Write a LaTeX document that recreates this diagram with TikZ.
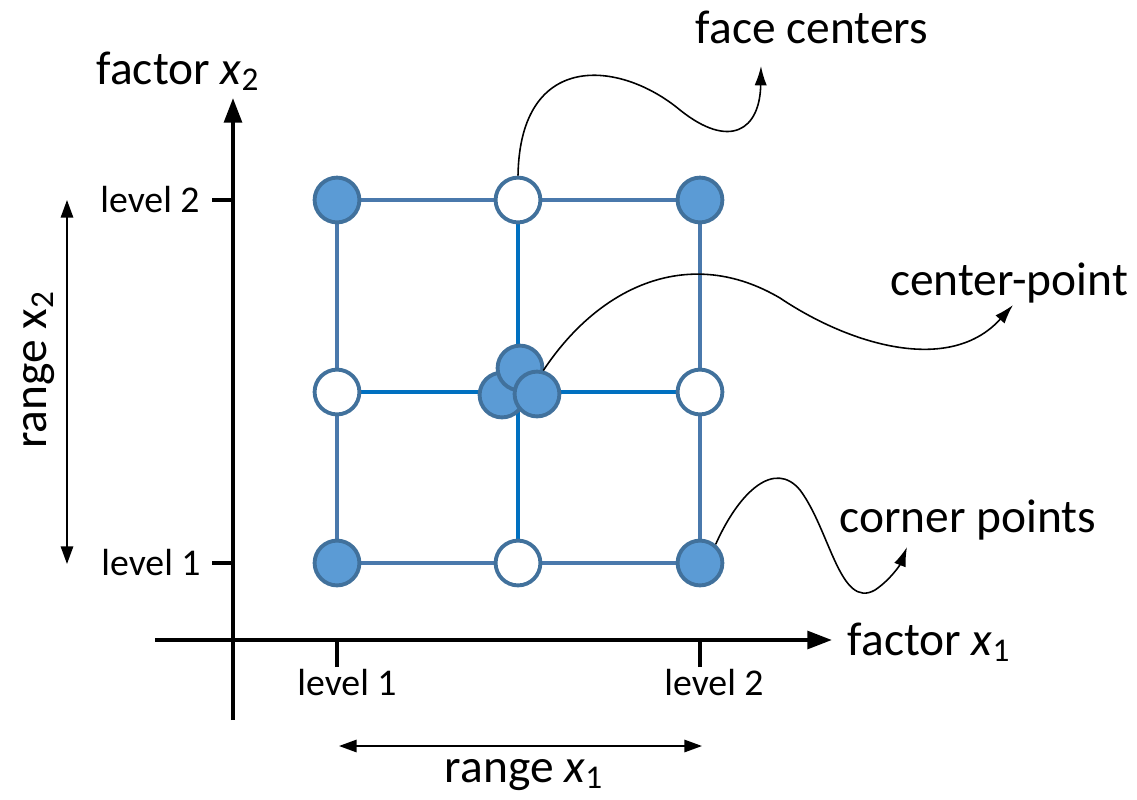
\documentclass[tikz,border=0pt]{standalone}
\usepackage{fontspec}
\setmainfont{Carlito}
\usetikzlibrary{arrows.meta,backgrounds}
\definecolor{ptfill}{HTML}{5B9BD5}
\definecolor{ptedge}{HTML}{41719C}
\definecolor{gridblue}{HTML}{4A79AC}
\definecolor{crossblue}{HTML}{0070C0}
\tikzset{
  designpt/.style={
    circle,
    draw=ptedge,
    line width=2.2pt,
    minimum size=25.5pt,
    inner sep=0pt
  },
  cornerpt/.style={designpt,fill=ptfill},
  facept/.style={designpt,fill=white},
  centerpt/.style={designpt,fill=ptfill},
  axisline/.style={-{Triangle[length=14pt,width=10pt]},line width=2.3pt},
  tickline/.style={line width=2pt},
  rangeline/.style={{Triangle[length=10pt,width=7pt]}-{Triangle[length=10pt,width=7pt]},line width=1.1pt},
  gridline/.style={draw=gridblue,line width=2pt},
  crossline/.style={draw=crossblue,line width=2pt},
  callout/.style={-{Latex[length=11pt,width=7pt]},line width=0.9pt},
  smalltext/.style={font=\fontsize{21.5}{26}\selectfont,anchor=base,inner sep=0pt},
  bigtext/.style={font=\fontsize{27}{32}\selectfont,anchor=base,inner sep=0pt}
}

\begin{document}
\begin{tikzpicture}[x=0.02cm,y=-0.02cm]
  \useasboundingbox (0,0) rectangle (1137,799);

  % axes
  \coordinate (yaxbot) at (233,720);
  \coordinate (yaxtop) at (233,98);
  \coordinate (xaxleft) at (155,640);
  \coordinate (xaxright) at (832,640);
  \draw[axisline] (yaxbot) -- (yaxtop);
  \draw[axisline] (xaxleft) -- (xaxright);
  \node[bigtext] (xtwo) at (178,84) {factor \textit{x}\textsubscript{2}};
  \node[bigtext] (xone) at (929,655) {factor \textit{x}\textsubscript{1}};

  % ticks and levels
  \coordinate (tickl2) at (212,200);
  \coordinate (tickl1) at (212,563);
  \coordinate (tickb1) at (337,667);
  \coordinate (tickb2) at (700,667);
  \draw[tickline] (tickl2) -- (233,200);
  \draw[tickline] (tickl1) -- (233,563);
  \draw[tickline] (tickb1) -- (337,640);
  \draw[tickline] (tickb2) -- (700,640);
  \node[smalltext] (lvlytwo) at (150,212) {level 2};
  \node[smalltext] (lvlyone) at (151,575) {level 1};
  \node[smalltext] (lvlxone) at (347,695) {level 1};
  \node[smalltext] (lvlxtwo) at (714,695) {level 2};

  % ranges
  \coordinate (rytop) at (67,200);
  \coordinate (rybot) at (67,564);
  \coordinate (rxleft) at (339,746);
  \coordinate (rxright) at (702,746);
  \draw[rangeline] (rybot) -- (rytop);
  \draw[rangeline] (rxleft) -- (rxright);
  \node[bigtext,anchor=base,rotate=90] (rangey) at (47,370) {range x\textsubscript{2}};
  \node[bigtext] (rangex) at (524,782) {range \textit{x}\textsubscript{1}};

  % design points
  \node[cornerpt] (c11) at (337,563) {};
  \node[cornerpt] (c21) at (700,563) {};
  \node[cornerpt] (c12) at (337,200) {};
  \node[cornerpt] (c22) at (700,200) {};
  \node[facept] (fbot) at (518,563) {};
  \node[facept] (ftop) at (518,200) {};
  \node[facept] (fleft) at (337,392) {};
  \node[facept] (fright) at (700,392) {};
  \node[centerpt] (cenL) at (502,395) {};
  \node[centerpt] (cenT) at (520,368) {};
  \node[centerpt] (cenR) at (537,394) {};

  \begin{scope}[on background layer]
    \draw[gridline] (c11) -- (fbot) -- (c21) -- (fright) -- (c22) -- (ftop) -- (c12) -- (fleft) -- (c11);
    \draw[crossline] (ftop) -- (fbot);
    \draw[crossline] (fleft) -- (fright);
  \end{scope}

  % callouts
  \node[bigtext] (facelbl) at (812,43) {face centers};
  \node[bigtext] (centerlbl) at (1009,295) {center-point};
  \node[bigtext] (cornerlbl) at (968,532) {corner points};
  \coordinate (facetip) at (761,66);
  \coordinate (centertip) at (1013,305);
  \coordinate (cornertip) at (907,547);
  \draw[callout] (ftop.north) .. controls (520,50) and (620,60) .. (680,110)
    .. controls (730,150) and (760,130) .. (facetip);
  \draw[callout] (cenR.75) .. controls (600,285) and (690,245) .. (780,298)
    .. controls (850,345) and (950,375) .. (centertip);
  \draw[callout] (c21.50) .. controls (740,490) and (775,460) .. (800,490)
    .. controls (830,530) and (840,610) .. (875,590)
    .. controls (890,580) and (900,565) .. (cornertip);
\end{tikzpicture}
\end{document}
